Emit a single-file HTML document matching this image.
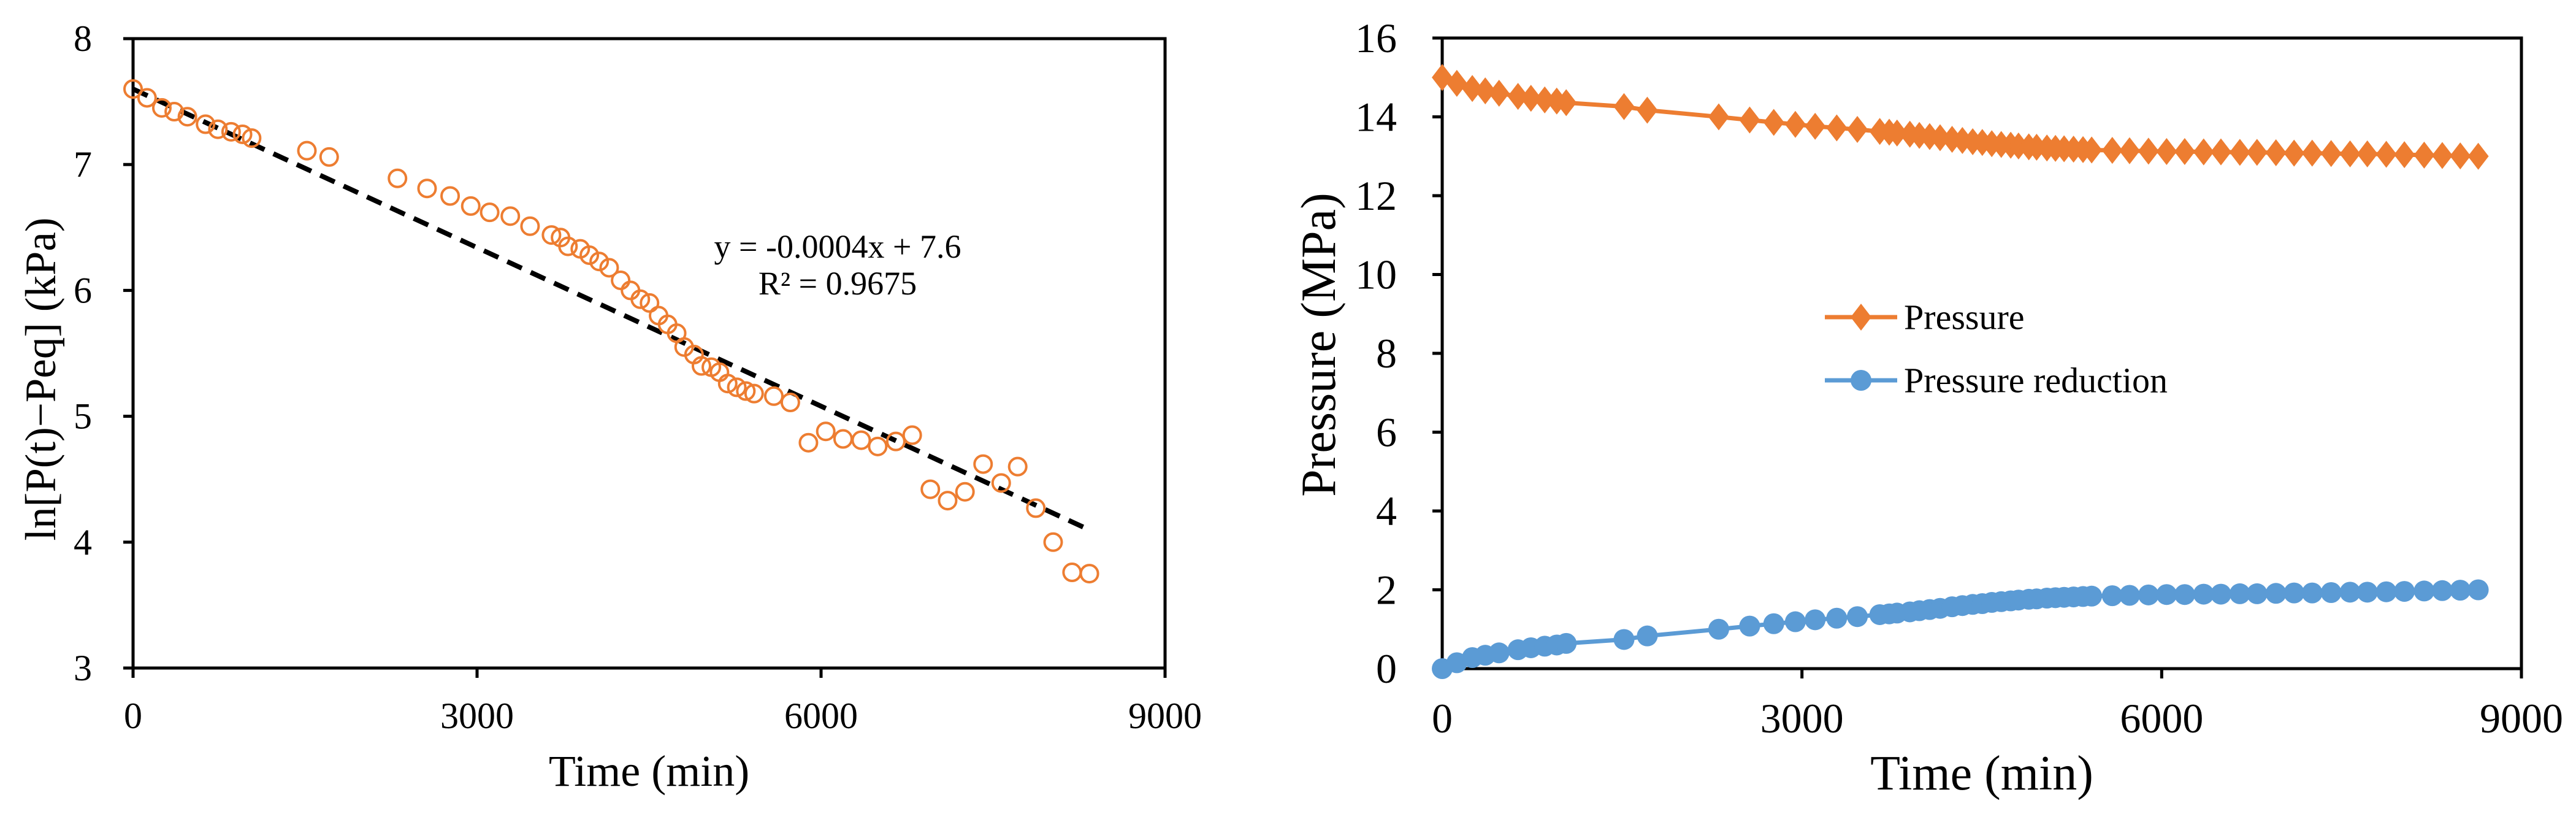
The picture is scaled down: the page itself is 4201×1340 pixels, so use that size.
<!DOCTYPE html>
<html><head><meta charset="utf-8"><style>
html,body{margin:0;padding:0;background:#fff;}
svg{display:block;font-family:"Liberation Serif","Times New Roman",serif;}
</style></head><body>
<svg id="chart" width="4201" height="1340" viewBox="0 0 4201 1340" xmlns="http://www.w3.org/2000/svg">
<g id="left"></g>
<g id="right"></g>
</svg>
<script>
// Left chart data
const lnTimes=[0,122,251,359,474,632,740,855,955,1034,1516,1710,2306,2564,2765,2945,3110,3290,3462,3649,3728,3793,3900,3979,4065,4152,4252,4338,4424,4504,4583,4662,4741,4806,4892,4957,5043,5114,5186,5265,5344,5416,5588,5732,5890,6041,6192,6350,6494,6652,6795,6953,7104,7255,7413,7571,7715,7873,8024,8189,8340];
const lnValues=[7.60,7.53,7.45,7.42,7.38,7.32,7.28,7.26,7.24,7.21,7.11,7.06,6.89,6.81,6.75,6.67,6.62,6.59,6.51,6.44,6.42,6.35,6.33,6.28,6.23,6.18,6.08,6.00,5.93,5.90,5.80,5.73,5.66,5.55,5.49,5.40,5.39,5.35,5.26,5.23,5.20,5.18,5.16,5.11,4.79,4.88,4.82,4.81,4.76,4.80,4.85,4.42,4.33,4.40,4.62,4.47,4.60,4.27,4.00,3.76,3.75];
const trendSlope=-0.00042, trendIntercept=7.6, trendRange=[0,8340];
const leftXTicks=[0,3000,6000,9000];
const leftYTicks=[3,4,5,6,7,8];
// Right chart data
const pTimes=[0,122,251,359,474,632,740,855,955,1034,1516,1710,2306,2564,2765,2945,3110,3290,3462,3649,3728,3793,3900,3979,4065,4152,4252,4338,4424,4504,4583,4662,4741,4806,4892,4957,5043,5114,5186,5265,5344,5416,5588,5732,5890,6041,6192,6350,6494,6652,6795,6953,7104,7255,7413,7571,7715,7873,8024,8189,8340,8490,8640];
const pressure=[15.00,14.85,14.72,14.66,14.60,14.52,14.47,14.43,14.40,14.36,14.26,14.17,14.00,13.92,13.86,13.81,13.76,13.72,13.68,13.63,13.61,13.59,13.56,13.53,13.50,13.47,13.43,13.40,13.37,13.35,13.32,13.30,13.28,13.26,13.24,13.23,13.21,13.20,13.19,13.18,13.17,13.16,13.15,13.14,13.13,13.12,13.12,13.11,13.11,13.10,13.10,13.09,13.08,13.08,13.07,13.06,13.06,13.05,13.04,13.03,13.02,13.01,13.00];
const pressureReduction=[0.00,0.15,0.28,0.34,0.40,0.48,0.53,0.57,0.60,0.64,0.74,0.83,1.00,1.08,1.14,1.19,1.24,1.28,1.32,1.37,1.39,1.41,1.44,1.47,1.50,1.53,1.57,1.60,1.63,1.65,1.68,1.70,1.72,1.74,1.76,1.77,1.79,1.80,1.81,1.82,1.83,1.84,1.85,1.86,1.87,1.88,1.88,1.89,1.89,1.90,1.90,1.91,1.92,1.92,1.93,1.94,1.94,1.95,1.96,1.97,1.98,1.99,2.00];
const rightXTicks=[0,3000,6000,9000];
const rightYTicks=[0,2,4,6,8,10,12,14,16];

const NS="http://www.w3.org/2000/svg";
function mk(parent,tag,attrs,text){const e=document.createElementNS(NS,tag);for(const k in attrs)e.setAttribute(k,attrs[k]);if(text!==undefined)e.textContent=text;parent.appendChild(e);return e;}

function axes(g,L,R,T,B,xmin,xmax,ymin,ymax,xt,yt,fs,yLabelX,xLabelY,prefix){
  const sx=v=>L+(v-xmin)/(xmax-xmin)*(R-L);
  const sy=v=>B-(v-ymin)/(ymax-ymin)*(B-T);
  const f=mk(g,'rect',{x:L,y:T,width:R-L,height:B-T,fill:'none',stroke:'#000','stroke-width':5});
  
  
  xt.forEach(v=>{
    const t=mk(g,'line',{x1:sx(v),x2:sx(v),y1:B,y2:B+16,stroke:'#000','stroke-width':5});
    
    
    const l=mk(g,'text',{x:sx(v),y:xLabelY,'font-size':fs,'text-anchor':'middle','dominant-baseline':'central'},String(v));
    
    
  });
  yt.forEach(v=>{
    const t=mk(g,'line',{x1:L-16,x2:L,y1:sy(v),y2:sy(v),stroke:'#000','stroke-width':5});
    
    
    const l=mk(g,'text',{x:yLabelX,y:sy(v),'font-size':fs,'text-anchor':'end','dominant-baseline':'central'},String(v));
    
    
  });
  return {sx,sy};
}

// LEFT
(function(){
  const g=document.getElementById('left');
  const L=217,R=1900,T=63,B=1089;
  const {sx,sy}=axes(g,L,R,T,B,0,9000,3,8,leftXTicks,leftYTicks,60,150,1167,'left-');
  const tl=mk(g,'line',{x1:sx(trendRange[0]),y1:sy(trendIntercept+trendSlope*trendRange[0]),x2:sx(trendRange[1]),y2:sy(trendIntercept+trendSlope*trendRange[1]),stroke:'#000','stroke-width':8,'stroke-dasharray':'26 16'});
  
  
  lnTimes.forEach((t,i)=>{
    const c=mk(g,'circle',{cx:sx(t),cy:sy(lnValues[i]),r:14,fill:'none',stroke:'#ED7D31','stroke-width':4});
    
    
  });
  const e1=mk(g,'text',{x:1366,y:402,'font-size':54,'text-anchor':'middle','dominant-baseline':'central'},'y = -0.0004x + 7.6');
  
  
  const e2=mk(g,'text',{x:1366,y:462,'font-size':54,'text-anchor':'middle','dominant-baseline':'central'},'R² = 0.9675');
  
  
  const xt=mk(g,'text',{x:(L+R)/2,y:1257,'font-size':72,'text-anchor':'middle','dominant-baseline':'central'},'Time (min)');
  
  
  const yt=mk(g,'text',{x:0,y:0,'font-size':71,'text-anchor':'middle','dominant-baseline':'central',transform:'translate(67,618) rotate(-90)'},'ln[P(t)−Peq]  (kPa)');
  
  
})();

// RIGHT
(function(){
  const g=document.getElementById('right');
  const L=2352,R=4112,T=62,B=1090;
  const {sx,sy}=axes(g,L,R,T,B,0,9000,0,16,rightXTicks,rightYTicks,68,2278,1171,'right-');
  function series(vals,color,name,marker){
    const pts=pTimes.map((t,i)=>sx(t)+','+sy(vals[i])).join(' ');
    const pl=mk(g,'polyline',{points:pts,fill:'none',stroke:color,'stroke-width':7,'stroke-linejoin':'round'});
    
    
    pTimes.forEach((t,i)=>{
      const x=sx(t),y=sy(vals[i]);
      let m;
      if(marker==='diamond') m=mk(g,'polygon',{points:`${x},${y-22} ${x+17},${y} ${x},${y+22} ${x-17},${y}`,fill:color});
      else m=mk(g,'circle',{cx:x,cy:y,r:17,fill:color});
      
      
    });
  }
  series(pressure,'#ED7D31','pressure','diamond');
  series(pressureReduction,'#5B9BD5','pressure-reduction','circle');
  const lg=mk(g,'g',{});
  
  
  [['Pressure','#ED7D31','diamond',517],['Pressure reduction','#5B9BD5','circle',620]].forEach(([lab,col,mkr,y])=>{
    const ln=mk(lg,'line',{x1:2976,x2:3094,y1:y,y2:y,stroke:col,'stroke-width':7});
    
    
    const cx=3035;
    let m;
    if(mkr==='diamond') m=mk(lg,'polygon',{points:`${cx},${y-22} ${cx+17},${y} ${cx},${y+22} ${cx-17},${y}`,fill:col});
    else m=mk(lg,'circle',{cx:cx,cy:y,r:17,fill:col});
    
    
    const t=mk(lg,'text',{x:3105,y:y,'font-size':58,'dominant-baseline':'central'},lab);
    
    
  });
  const xt=mk(g,'text',{x:(L+R)/2,y:1261,'font-size':80,'text-anchor':'middle','dominant-baseline':'central'},'Time (min)');
  
  
  const yt=mk(g,'text',{x:0,y:0,'font-size':80,'text-anchor':'middle','dominant-baseline':'central',transform:'translate(2151,562) rotate(-90)'},'Pressure  (MPa)');
  
  
})();
</script>
</body></html>
